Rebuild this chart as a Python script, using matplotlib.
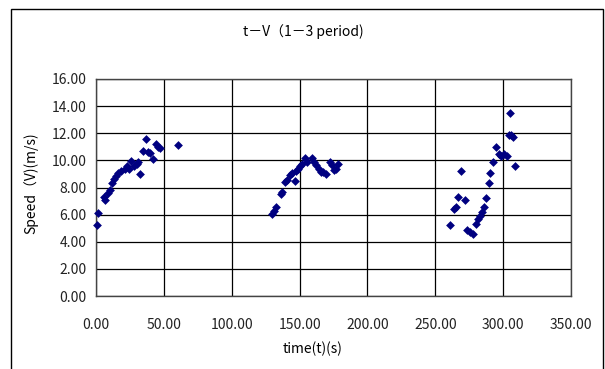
import matplotlib
matplotlib.use("Agg")
import matplotlib.pyplot as plt
from matplotlib.patches import Rectangle

plt.rcParams['font.family'] = ['Noto Sans CJK JP', 'DejaVu Sans']

# period 1
t1 = [0.5, 1.8, 5.6, 6.5, 8.7, 10.0, 11.6, 13.0, 14.5, 16.5, 18.5, 21.0, 22.5, 24.0,
      26.1, 28.0, 30.0, 31.3, 32.6, 34.5, 37.0, 38.0, 39.5, 42.0, 44.0, 45.5, 46.8, 60.5]
v1 = [5.2, 6.1, 7.3, 7.1, 7.6, 7.8, 8.3, 8.65, 8.85, 9.05, 9.2, 9.4, 9.55, 9.4,
      9.95, 9.55, 9.7, 9.85, 9.0, 10.7, 11.6, 10.6, 10.55, 10.1, 11.2, 11.0, 10.9, 11.1]
# period 2
t2 = [129.5, 131.2, 132.9, 136.0, 137.4, 139.4, 140.8, 143.2, 144.6, 146.6, 147.5, 148.9,
      150.3, 151.7, 153.9, 155.4, 159.2, 160.7, 162.1, 164.0, 165.5, 167.4, 169.8, 172.2,
      173.7, 175.1, 177.0, 178.5]
v2 = [6.07, 6.3, 6.55, 7.5, 7.65, 8.4, 8.55, 8.9, 9.1, 8.45, 9.2, 9.4,
      9.6, 9.75, 10.15, 9.9, 10.15, 9.9, 9.65, 9.4, 9.15, 9.15, 9.0, 9.9,
      9.65, 9.3, 9.4, 9.7]
# period 3
t3 = [261.1, 263.5, 265.0, 266.9, 269.3, 271.7, 273.7, 275.6, 277.5, 279.9, 281.4, 282.8,
      284.3, 285.7, 287.7, 289.4, 290.6, 292.5, 294.9, 296.8, 298.7, 300.7, 302.6, 304.1,
      305.6, 307.0, 305.3, 308.9]
v3 = [5.2, 6.4, 6.55, 7.3, 9.25, 7.1, 4.9, 4.7, 4.55, 5.3, 5.7, 5.9,
      6.2, 6.55, 7.2, 8.3, 9.05, 9.85, 11.0, 10.45, 10.3, 10.5, 10.3, 11.85,
      11.85, 11.7, 13.5, 9.6]

x_ticks = [0, 50, 100, 150, 200, 250, 300, 350]
y_ticks = [0, 2, 4, 6, 8, 10, 12, 14, 16]

title = "t－V（1－3 period)"
xlabel = "time(t)(s)"
ylabel = "Speed（V)(m/s)"

W, H = 605, 369
fig = plt.figure(figsize=(W / 100, H / 100), dpi=100)
fig.patch.set_facecolor('white')

# outer chart border
fig.patches.append(Rectangle((11 / W, -0.05), (603 - 11) / W, 1.05 - 9 / H,
                             transform=fig.transFigure, fill=False,
                             edgecolor='black', linewidth=1.0))

ax = fig.add_axes([96 / W, 1 - 296 / H, (571 - 96) / W, (296 - 79) / H])
ax.set_xlim(0, 350)
ax.set_ylim(0, 16)
ax.set_xticks(x_ticks)
ax.set_yticks(y_ticks)
ax.set_xticklabels([f"{v:.2f}" for v in x_ticks], fontsize=10)
ax.set_yticklabels([f"{v:.2f}" for v in y_ticks], fontsize=10)
ax.tick_params(axis='both', length=0, colors='#222222')
ax.tick_params(axis='x', pad=16)
ax.tick_params(axis='y', pad=7)
ax.grid(True, color='black', linewidth=0.9)
ax.set_axisbelow(True)
for s in ax.spines.values():
    s.set_color('#444444')
    s.set_linewidth(1.0)

allt = t1 + t2 + t3
allv = v1 + v2 + v3
ax.scatter(allt, allv, marker='D', s=20, color='#000080', linewidths=0, zorder=3,
           clip_on=False)

fig.text(303 / W, 1 - 32 / H, title, ha='center', va='center', fontsize=10)
fig.text(313 / W, 1 - 349 / H, xlabel, ha='center', va='center', fontsize=10)
fig.text(31 / W, 1 - 183 / H, ylabel, ha='center', va='center', fontsize=10,
         rotation=90)

fig.savefig("out.png", dpi=100)
